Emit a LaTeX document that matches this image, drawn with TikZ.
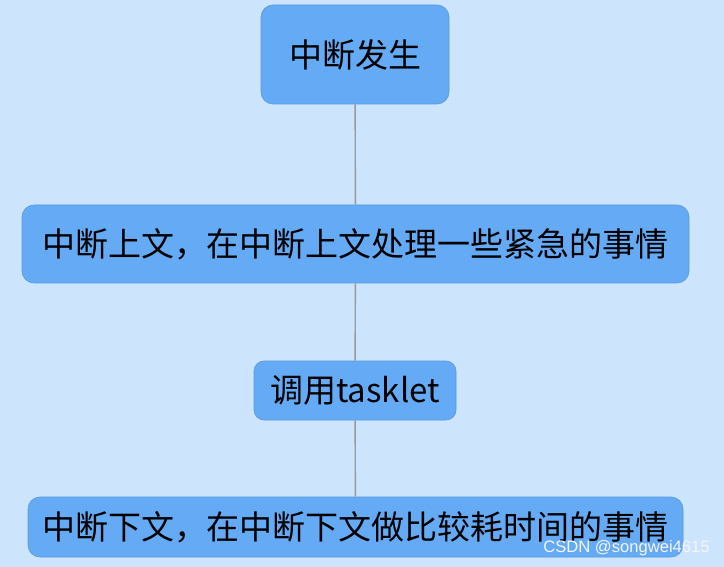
\documentclass[tikz,border=0pt]{standalone}
\usepackage{fontspec}
\usepackage{xcolor}
\usepackage{tikz}
\setmainfont{Noto Sans CJK SC}
\definecolor{bgblue}{HTML}{CCE4FC}
\definecolor{boxblue}{HTML}{64AAF5}
\definecolor{linegray}{HTML}{999999}

\tikzset{
	stagebox/.style={draw=boxblue!90!black, line width=0.3pt, fill=boxblue, rounded corners=6pt,
		inner sep=0pt, align=center, font=\fontsize{16.5}{20}\selectfont},
	link/.style={draw=linegray, line width=0.7pt}
}

\begin{document}
\begin{tikzpicture}[x=0.5pt, y=-0.5pt]
		% Background
		\fill[bgblue] (0,0) rectangle (724,567);
		\useasboundingbox (0,0) rectangle (724,567);

		% Stages
		\node[stagebox, minimum width=94pt, minimum height=49.5pt] (irq) at (355,54.5) {中断发生};
		\node[stagebox, minimum width=333.5pt, minimum height=39pt] (tophalf) at (355.5,244) {中断上文，在中断上文处理一些紧急的事情};
		\node[stagebox, rounded corners=5pt, minimum width=101pt, minimum height=29.5pt] (tasklet) at (355,390.5) {调用tasklet};
		\node[stagebox, minimum width=327.5pt, minimum height=30pt] (bottomhalf) at (355.5,527) {中断下文，在中断下文做比较耗时间的事情};

		% Links
		\draw[link] (irq) -- (tophalf);
		\draw[link] (tophalf) -- (tasklet);
		\draw[link] (tasklet) -- (bottomhalf);

		% Watermark
		\node[text=white!92!gray, font=\fontsize{8.3}{10}\selectfont\fontspec{Liberation Sans}] (mark) at (626.5,548) {CSDN @songwei4615};
	\end{tikzpicture}
\end{document}
